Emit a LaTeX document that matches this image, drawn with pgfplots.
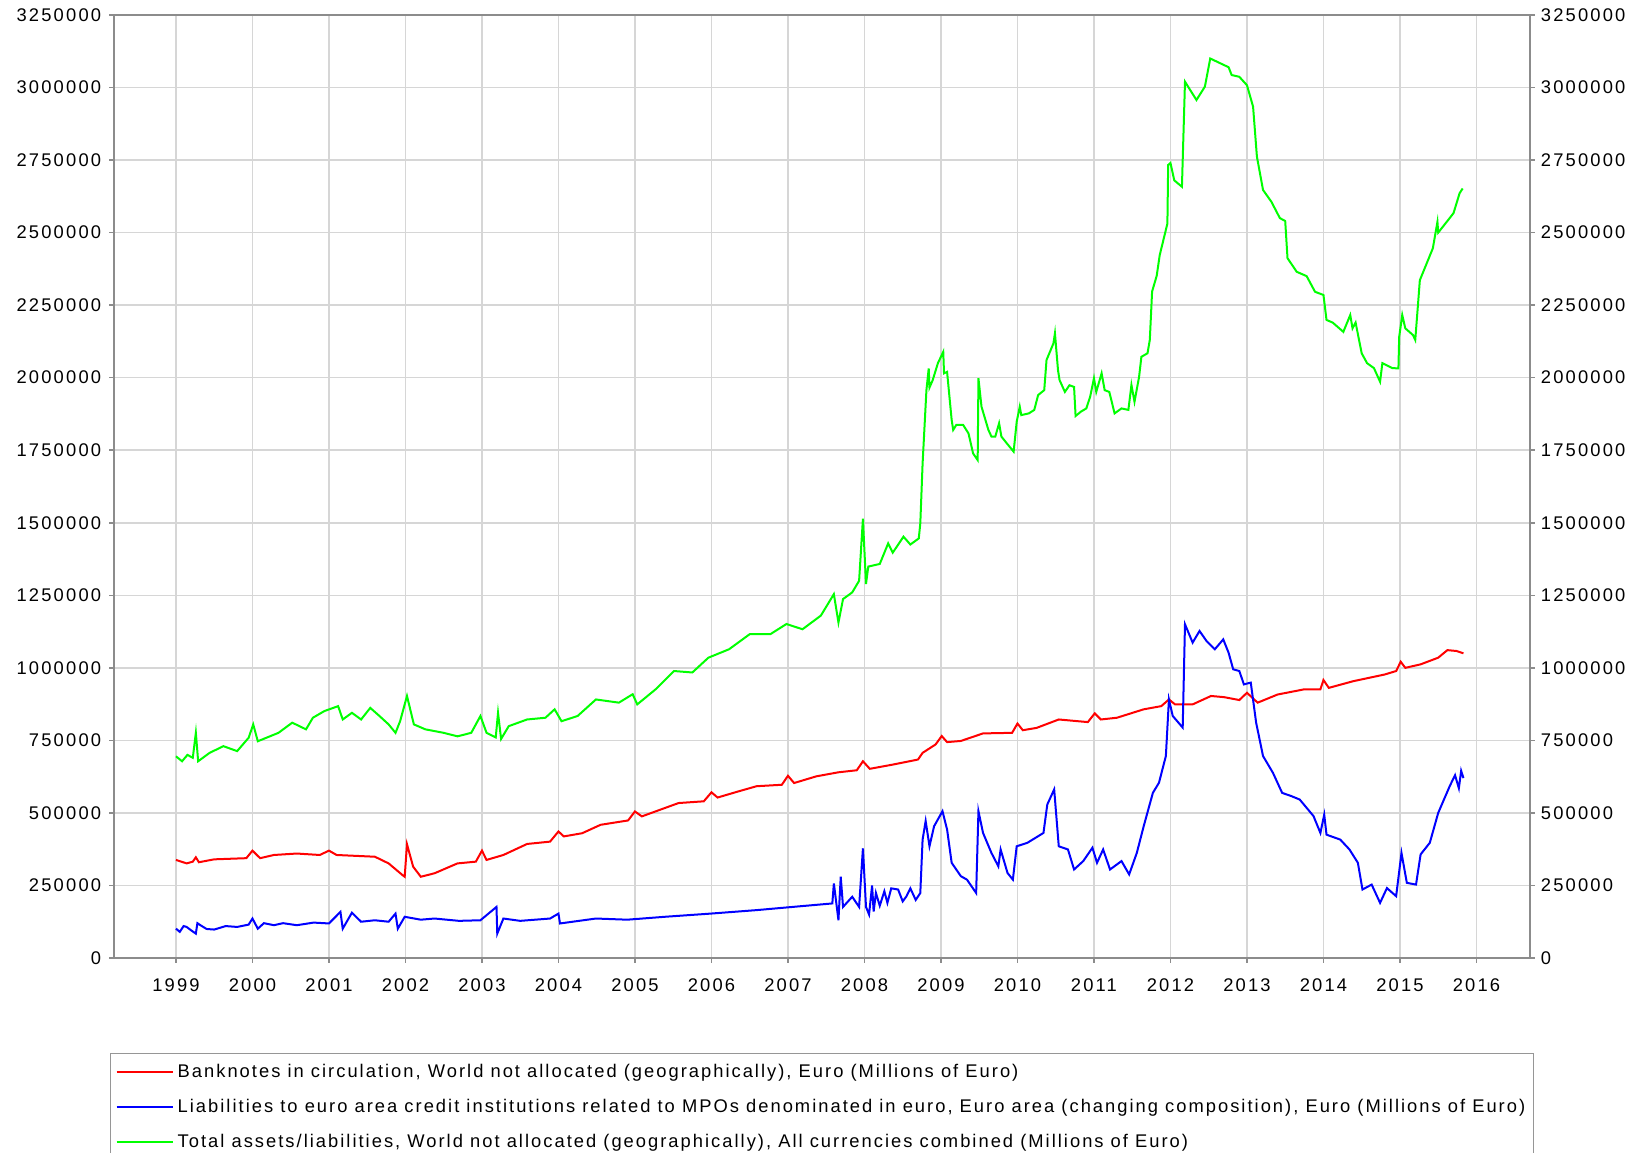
\documentclass[border=0pt]{standalone}
\usepackage{pgfplots}
\pgfplotsset{compat=1.18}
\usepackage{fontspec}
\setmainfont{Liberation Sans}[LetterSpace=11]
\newfontfamily\tickfont{Liberation Sans}[LetterSpace=12]
\definecolor{cRed}{RGB}{255,0,0}
\definecolor{cBlue}{RGB}{0,0,255}
\definecolor{cGreen}{RGB}{0,255,0}
\definecolor{axgray}{RGB}{140,140,140}
\definecolor{gridgray}{RGB}{214,214,214}
\definecolor{leggray}{RGB}{150,150,150}
\begin{document}
\begin{tikzpicture}
\pgfplotsset{
  common/.style={
    scale only axis, width=849.6pt, height=565.8pt,
    xmin=1998.19, xmax=2016.70, ymin=0, ymax=3250000,
    ytick distance=250000, scaled y ticks=false, scaled x ticks=false,
    tick align=outside, major tick length=3pt,
    tick style={draw=axgray, line width=0.9pt},
    axis line style={draw=axgray, line width=1pt},
    /pgf/number format/assume math mode=true,
    tick label style={font=\fontsize{11pt}{13pt}\selectfont\tickfont},
    yticklabel style={/pgf/number format/fixed, /pgf/number format/1000 sep={}},
    xticklabel style={/pgf/number format/fixed, /pgf/number format/1000 sep={}},
  }
}
\begin{axis}[common, name=ax,
  xtick={1999,2000,...,2016}, xtick pos=bottom, ytick pos=left,
  grid=major, major grid style={draw=gridgray, line width=0.9pt},
  xticklabel style={yshift=-6pt}, yticklabel style={xshift=-1.2pt},
  legend cell align=left,
  legend image code/.code={\draw[#1] (0pt,0pt) -- (34pt,0pt);},
  legend style={at={(-0.0028,-0.1007)}, anchor=north west, draw=leggray, line width=0.8pt,
    font=\fontsize{11pt}{13pt}\selectfont, row sep=7.5pt, inner xsep=3pt, inner ysep=4.5pt},
]
\addplot[cRed, line width=1.2pt] coordinates {
(1999.00,338000)(1999.14,326000)(1999.22,332000)(1999.26,347000)(1999.30,330000)(1999.50,340000)
(1999.92,344000)(2000.00,370000)(2000.10,344000)(2000.28,355000)(2000.58,360000)(2000.88,355000)
(2001.00,370000)(2001.10,355000)(2001.60,349000)(2001.78,326000)(2001.96,286000)(2001.99,280000)
(2002.02,392000)(2002.10,315000)(2002.20,280000)(2002.38,292000)(2002.68,326000)(2002.92,332000)
(2003.00,370000)(2003.06,338000)(2003.28,355000)(2003.59,393000)(2003.89,401000)(2004.00,436000)
(2004.07,419000)(2004.31,430000)(2004.55,459000)(2004.91,474000)(2005.00,505000)(2005.09,488000)
(2005.33,511000)(2005.57,534000)(2005.90,540000)(2006.00,571000)(2006.08,553000)(2006.35,574000)
(2006.59,592000)(2006.92,597000)(2007.00,628000)(2007.08,603000)(2007.37,626000)(2007.66,640000)
(2007.90,647000)(2007.98,678000)(2008.07,652000)(2008.38,667000)(2008.70,684000)(2008.76,707000)
(2008.93,736000)(2009.01,765000)(2009.08,744000)(2009.26,748000)(2009.55,774000)(2009.93,776000)
(2010.00,808000)(2010.07,785000)(2010.25,793000)(2010.54,822000)(2010.92,813000)(2011.01,843000)
(2011.09,822000)(2011.30,828000)(2011.65,857000)(2011.88,868000)(2011.98,891000)(2012.06,874000)
(2012.29,874000)(2012.53,903000)(2012.70,899000)(2012.90,889000)(2013.00,914000)(2013.14,880000)
(2013.40,908000)(2013.75,926000)(2013.96,926000)(2014.00,958000)(2014.07,931000)(2014.39,954000)
(2014.80,977000)(2014.95,989000)(2015.01,1021000)(2015.07,1000000)(2015.27,1012000)(2015.50,1035000)
(2015.62,1061000)(2015.74,1058000)(2015.83,1050000)
};
\addlegendentry{Banknotes in circulation, World not allocated (geographically), Euro (Millions of Euro)}
\addplot[cBlue, line width=1.2pt] coordinates {
(1999.00,101000)(1999.05,90000)(1999.10,110000)(1999.14,107000)(1999.20,95000)(1999.26,84000)
(1999.28,120000)(1999.32,113000)(1999.40,100000)(1999.50,98000)(1999.65,110000)(1999.80,107000)(1999.95,115000)
(2000.00,136000)(2000.07,101000)(2000.15,120000)(2000.28,113000)(2000.40,120000)(2000.58,113000)(2000.80,122000)(2001.00,119000)
(2001.15,159000)(2001.18,101000)(2001.30,156000)(2001.42,125000)(2001.60,130000)(2001.78,125000)(2001.87,153000)
(2001.90,101000)(2001.99,142000)(2002.20,132000)(2002.38,136000)(2002.70,128000)(2002.98,130000)(2003.19,176000)(2003.20,84000)
(2003.28,136000)(2003.50,128000)(2003.89,136000)(2004.00,153000)(2004.02,119000)(2004.49,136000)(2004.90,132000)(2005.39,142000)
(2005.99,153000)(2006.59,165000)(2007.19,179000)(2007.58,188000)(2007.60,257000)(2007.66,130000)
(2007.69,280000)(2007.72,176000)(2007.84,211000)(2007.93,176000)(2007.98,378000)(2008.02,176000)
(2008.06,150000)(2008.10,250000)(2008.12,160000)(2008.15,224000)(2008.20,180000)(2008.26,230000)
(2008.30,190000)(2008.35,240000)(2008.44,236000)(2008.50,195000)(2008.55,213000)(2008.60,240000)
(2008.67,200000)(2008.73,224000)(2008.76,408000)(2008.80,472000)(2008.85,385000)(2008.91,454000)
(2009.02,506000)(2009.08,443000)(2009.14,328000)(2009.26,282000)(2009.34,270000)(2009.46,224000)
(2009.49,506000)(2009.55,431000)(2009.66,362000)(2009.75,316000)(2009.78,374000)(2009.87,293000)
(2009.94,270000)(2009.99,385000)(2010.13,397000)(2010.34,431000)(2010.39,529000)(2010.48,581000)
(2010.54,385000)(2010.66,374000)(2010.74,305000)(2010.86,334000)(2010.98,380000)(2011.04,328000)
(2011.12,374000)(2011.21,305000)(2011.36,334000)(2011.46,288000)(2011.56,362000)(2011.65,454000)
(2011.77,569000)(2011.85,604000)(2011.94,696000)(2011.98,891000)(2012.03,834000)(2012.16,794000)
(2012.19,1150000)(2012.29,1087000)(2012.38,1127000)(2012.47,1093000)(2012.58,1064000)(2012.69,1098000)
(2012.76,1052000)(2012.82,995000)(2012.90,989000)(2012.96,943000)(2013.05,949000)(2013.12,811000)
(2013.21,696000)(2013.34,638000)(2013.46,569000)(2013.58,558000)(2013.69,546000)(2013.87,489000)
(2013.96,431000)(2014.01,494000)(2014.04,425000)(2014.22,408000)(2014.34,374000)(2014.45,328000)
(2014.51,236000)(2014.63,253000)(2014.74,190000)(2014.83,241000)(2014.95,213000)(2015.02,362000)
(2015.09,259000)(2015.21,253000)(2015.27,357000)(2015.39,397000)(2015.50,500000)(2015.65,592000)
(2015.72,630000)(2015.77,585000)(2015.80,645000)(2015.83,620000)
};
\addlegendentry{Liabilities to euro area credit institutions related to MPOs denominated in euro, Euro area (changing composition), Euro (Millions of Euro)}
\addplot[cGreen, line width=1.2pt] coordinates {
(1999.00,695000)(1999.08,678000)(1999.15,700000)(1999.22,690000)(1999.26,776000)(1999.29,678000)
(1999.44,707000)(1999.62,730000)(1999.80,713000)(1999.95,759000)(2000.01,805000)(2000.07,747000)
(2000.34,776000)(2000.52,811000)(2000.70,788000)(2000.79,828000)(2000.94,851000)(2001.12,868000)
(2001.18,822000)(2001.30,845000)(2001.42,822000)(2001.54,862000)(2001.66,834000)(2001.78,805000)
(2001.87,776000)(2001.93,816000)(2002.02,903000)(2002.11,805000)(2002.26,788000)(2002.50,776000)
(2002.68,764000)(2002.86,776000)(2002.98,834000)(2003.06,776000)(2003.18,760000)(2003.21,845000)
(2003.25,755000)(2003.35,799000)(2003.59,822000)(2003.83,828000)(2003.95,857000)(2004.04,816000)
(2004.25,834000)(2004.49,891000)(2004.79,880000)(2004.97,909000)(2005.03,874000)(2005.27,926000)
(2005.51,989000)(2005.75,984000)(2005.96,1035000)(2006.23,1064000)(2006.50,1116000)(2006.77,1116000)
(2006.98,1151000)(2007.19,1133000)(2007.43,1180000)(2007.60,1254000)(2007.66,1156000)(2007.72,1237000)
(2007.84,1260000)(2007.93,1300000)(2007.98,1514000)(2008.02,1289000)(2008.05,1349000)(2008.20,1358000)
(2008.31,1429000)(2008.37,1397000)(2008.51,1452000)(2008.60,1425000)(2008.71,1446000)(2008.73,1498000)
(2008.76,1704000)(2008.81,1957000)(2008.84,2032000)(2008.85,1966000)(2008.89,1990000)(2008.96,2050000)
(2009.03,2089000)(2009.04,2015000)(2009.08,2020000)(2009.14,1854000)(2009.16,1820000)(2009.20,1837000)
(2009.29,1837000)(2009.36,1808000)(2009.42,1739000)(2009.48,1716000)(2009.49,1998000)(2009.53,1900000)
(2009.62,1820000)(2009.66,1797000)(2009.71,1797000)(2009.76,1843000)(2009.79,1797000)(2009.86,1774000)
(2009.95,1745000)(2009.99,1848000)(2010.03,1900000)(2010.05,1871000)(2010.15,1877000)(2010.22,1889000)
(2010.27,1940000)(2010.35,1957000)(2010.38,2061000)(2010.47,2118000)(2010.49,2153000)(2010.53,2026000)
(2010.55,1992000)(2010.62,1951000)(2010.68,1974000)(2010.74,1968000)(2010.76,1868000)(2010.83,1883000)
(2010.90,1894000)(2010.95,1934000)(2011.00,1998000)(2011.03,1951000)(2011.10,2015000)(2011.14,1957000)
(2011.20,1951000)(2011.27,1877000)(2011.36,1894000)(2011.45,1889000)(2011.49,1975000)(2011.53,1917000)
(2011.59,2003000)(2011.62,2072000)(2011.70,2084000)(2011.73,2130000)(2011.76,2297000)(2011.82,2351000)
(2011.86,2423000)(2011.96,2531000)(2011.97,2733000)(2012.00,2740000)(2012.05,2680000)(2012.15,2658000)
(2012.19,3020000)(2012.34,2957000)(2012.45,3003000)(2012.52,3100000)(2012.68,3080000)(2012.76,3070000)
(2012.80,3043000)(2012.90,3037000)(2013.00,3008000)(2013.08,2934000)(2013.13,2762000)(2013.21,2647000)
(2013.32,2606000)(2013.43,2550000)(2013.50,2540000)(2013.53,2412000)(2013.65,2365000)(2013.78,2350000)
(2013.89,2296000)(2014.00,2285000)(2014.04,2199000)(2014.12,2190000)(2014.26,2158000)(2014.35,2216000)
(2014.38,2170000)(2014.42,2190000)(2014.50,2084000)(2014.57,2050000)(2014.66,2033000)(2014.74,1986000)
(2014.77,2050000)(2014.90,2033000)(2014.98,2032000)(2014.99,2141000)(2015.03,2216000)(2015.07,2170000)
(2015.17,2147000)(2015.20,2130000)(2015.26,2336000)(2015.43,2446000)(2015.49,2537000)(2015.50,2500000)
(2015.65,2550000)(2015.70,2567000)(2015.78,2636000)(2015.82,2652000)
};
\addlegendentry{Total assets/liabilities, World not allocated (geographically), All currencies combined (Millions of Euro)}
\end{axis}
\begin{axis}[common, hide x axis, axis y line*=right, ytick pos=right]
\addplot[draw=none] coordinates {(2000,0)};
\end{axis}
\pgfresetboundingbox
\path[use as bounding box] ([shift={(-68.4pt,-117pt)}]ax.south west) rectangle ([shift={(62.4pt,9pt)}]ax.north east);
\end{tikzpicture}
\end{document}
